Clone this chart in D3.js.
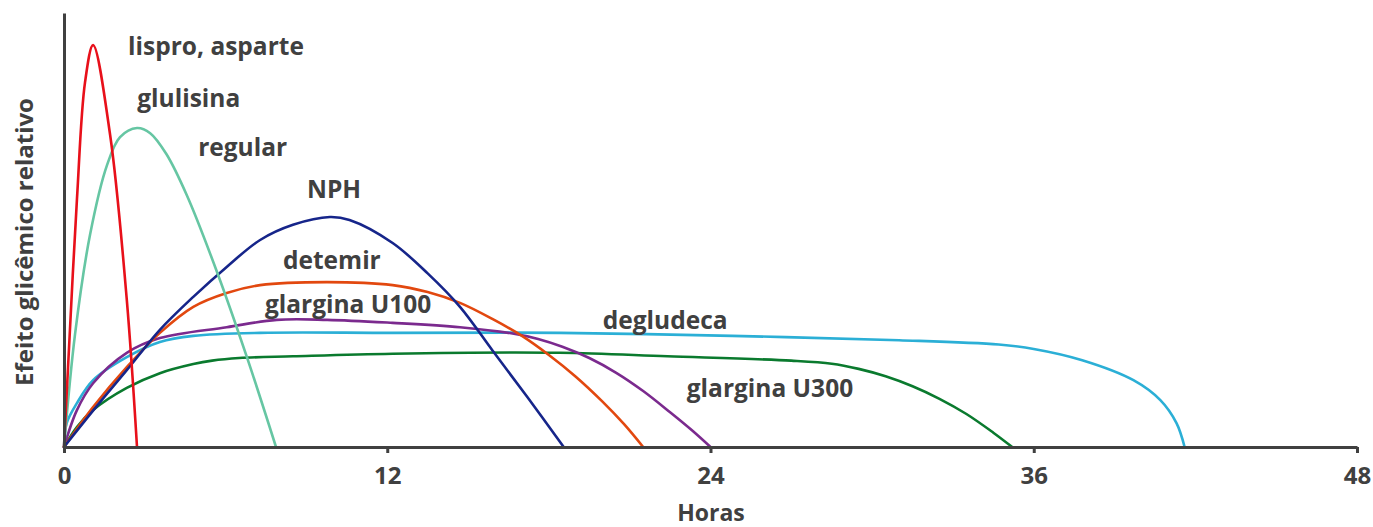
<!DOCTYPE html>
<html><head><meta charset="utf-8">
<script src="https://cdn.jsdelivr.net/npm/d3@7"></script>
<style>
html,body{margin:0;padding:0;background:#fff;}
svg text{font-family:"Open Sans",sans-serif;font-weight:700;fill:#404040;}
</style></head>
<body><svg id="c" width="1373" height="527"></svg>
<script>
// ---- data (hours, relative glycemic effect 0..100) ----
const xTicks = [0, 12, 24, 36, 48];
const xTitle = "Horas";
const yTitle = "Efeito glicêmico relativo";

const lisproT = [0, 0.15, 0.48, 0.78, 1.08, 1.71, 2.33, 2.71];
const lisproV = [0, 18.4, 57, 84, 92.6, 72, 34, 0];

const regularT = [0, 0.41, 0.97, 1.6, 2.08, 2.71, 3.2, 3.8, 4.56, 5.67, 6.79, 7.87];
const regularV = [0, 26, 49, 65, 71.4, 73.5, 72.3, 67.5, 58, 40.5, 20.7, 0];

const nphT = [0, 1.2, 2.33, 3.56, 4.8, 6.04, 7.28, 8.5, 9.87, 10.6, 12.2, 13.5, 14.7, 15.9, 17.2, 18.55];
const nphV = [0, 9.3, 17.7, 27, 34.6, 41.5, 47.7, 51.2, 53, 52.3, 47, 40, 32.3, 22.3, 11.5, 0];

const detemirT = [0, 1.08, 2.33, 3.56, 4.8, 6.04, 7.28, 9.77, 12.2, 13.5, 14.7, 15.9, 17.0, 18.0, 19.0, 20.0, 20.8, 21.5];
const detemirV = [0, 9.2, 18.4, 26.3, 32.3, 35.5, 37.3, 38, 37.3, 35.7, 33.2, 29.5, 25.6, 21.2, 16.2, 10.4, 5.2, 0];

const u100T = [0, 0.48, 1.08, 2.33, 3.56, 6.04, 7.9, 9.77, 12.2, 14.7, 16.6, 17.6, 18.5, 19.5, 20.5, 21.5, 22.5, 23.3, 24];
const u100V = [0, 8.5, 14.7, 21.7, 25.1, 27.6, 29.3, 29.3, 28.6, 27.6, 26.2, 24.9, 23.1, 20.5, 17.1, 12.9, 8.0, 3.9, 0];

const degludecT = [0, 0.1, 0.48, 1.08, 2.33, 3.56, 4.8, 7.28, 12.2, 18.4, 24.8, 31, 34.7, 36, 37.8, 39.7, 40.7, 41.3, 41.6];
const degludecV = [0, 5.5, 10.1, 15.4, 20.7, 24.2, 25.6, 26.3, 26.3, 26.3, 25.6, 24.6, 23.6, 22.6, 20, 15.4, 10.8, 5.5, 0];

const u300T = [0, 0.48, 1.08, 2.33, 3.56, 4.8, 5.5, 6.5, 8.5, 12.2, 18.4, 22.4, 27.0, 28.5, 29.5, 30.5, 31.5, 32.5, 33.5, 34.5, 35.2];
const u300V = [0, 4.6, 8.5, 13.6, 17, 19.1, 19.9, 20.5, 20.9, 21.5, 21.7, 20.9, 19.9, 19.2, 18.0, 16.3, 14.0, 11.1, 7.6, 3.3, 0];

const seriesColors = ["#E8101A", "#66C6A3", "#16258A", "#E2480F", "#7B2A8E", "#2BAFD6", "#0A7A2E"];

const labelTexts = ["lispro, asparte", "glulisina", "regular", "NPH", "detemir", "glargina U100", "degludeca", "glargina U300"];
const labelT = [2.38, 2.72, 4.98, 9.02, 8.13, 7.46, 20.0, 23.12];
const labelV = [90.3, 78.3, 67.1, 57.4, 41.0, 30.9, 27.2, 11.5];

// ---- drawing ----
const svg = d3.select("#c");
const x = d3.scaleLinear().domain([0, 48]).range([64, 1357]);
const y = d3.scaleLinear().domain([0, 100]).range([447, 13]);

const seriesData = [
  d3.zip(lisproT, lisproV), d3.zip(regularT, regularV), d3.zip(nphT, nphV),
  d3.zip(detemirT, detemirV), d3.zip(u100T, u100V), d3.zip(degludecT, degludecV),
  d3.zip(u300T, u300V)
];

const line = d3.line().x(d => x(d[0])).y(d => y(d[1])).curve(d3.curveCatmullRom.alpha(0.5));

const order = [6, 5, 4, 3, 2, 1, 0];
order.forEach(i => {
  svg.append("path").datum(seriesData[i])
    .attr("d", line).attr("fill", "none")
    .attr("stroke", seriesColors[i]).attr("stroke-width", 2.6)
    .attr("stroke-linejoin", "round").attr("stroke-linecap", "round");
});

// axes
const xAxis = svg.append("g").attr("transform", "translate(0,447)")
  .call(d3.axisBottom(x).tickValues(xTicks).tickSize(6).tickSizeOuter(0).tickPadding(14));
xAxis.select(".domain").attr("stroke", "#404040").attr("stroke-width", 3);
xAxis.selectAll(".tick line").attr("stroke", "#404040").attr("stroke-width", 3);
xAxis.selectAll(".tick text").attr("font-size", 24).attr("fill", "#404040")
  .style("font-family", '"Open Sans",sans-serif').style("font-weight", 700);

const yAxis = svg.append("g").attr("transform", "translate(64,0)")
  .call(d3.axisLeft(y).tickValues([]).tickSizeOuter(0));
yAxis.select(".domain").attr("stroke", "#404040").attr("stroke-width", 3);

svg.append("text").attr("x", 711).attr("y", 521).attr("text-anchor", "middle")
  .attr("font-size", 23).text(xTitle);
svg.append("text").attr("transform", "translate(33,242) rotate(-90)")
  .attr("text-anchor", "middle").attr("font-size", 24).text(yTitle);

labelTexts.forEach((t, i) => {
  svg.append("text").attr("x", x(labelT[i])).attr("y", y(labelV[i]))
    .attr("font-size", 24.5).text(t);
});
</script></body></html>
